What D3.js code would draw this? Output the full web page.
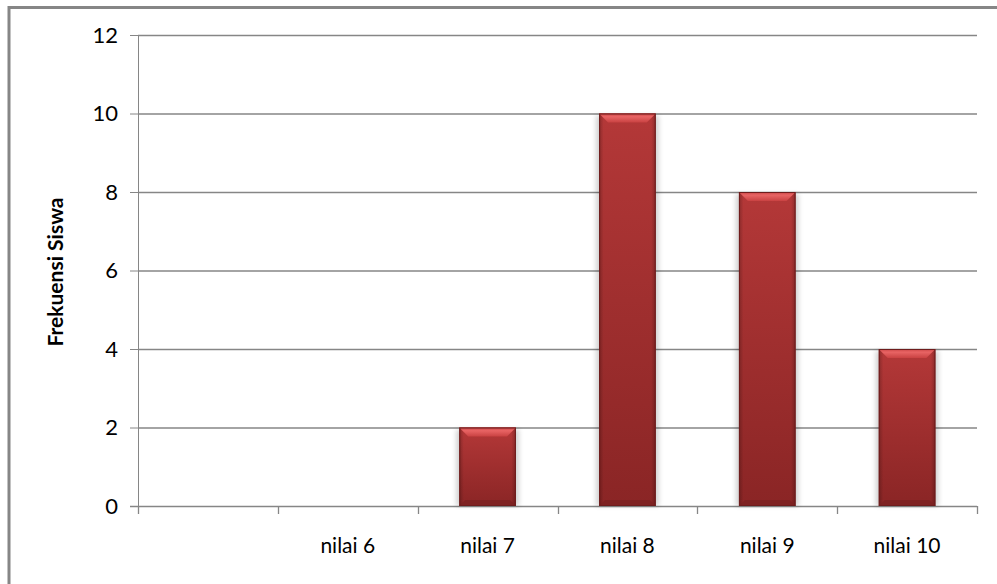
<!DOCTYPE html>
<html>
<head>
<meta charset="utf-8">
<script src="https://cdn.jsdelivr.net/npm/d3@7"></script>
<style>
  body { margin: 0; background: #fff; }
  svg { display: block; }
  text { font-family: Lato, "Open Sans", sans-serif; fill: #000; }
</style>
</head>
<body>
<svg width="997" height="584"></svg>
<script>
// categories (first slot is empty in the original chart)
const categories = ['', 'nilai 6', 'nilai 7', 'nilai 8', 'nilai 9', 'nilai 10']
const values = [null, 0, 2, 10, 8, 4]
const yTicks = [0, 2, 4, 6, 8, 10, 12]
const yTitle = 'Frekuensi Siswa'

const svg = d3.select('svg')
const plot = {left: 138, right: 977, top: 35, bottom: 506}

// outer frame (only top and left edges are visible in the picture)
svg.append('path')
  .attr('d', 'M 9,584 V 7.5 H 997')
  .attr('fill', 'none')
  .attr('stroke', '#868686')
  .attr('stroke-width', 3)

const x = d3.scaleBand()
  .domain(categories.map((d, i) => i))
  .range([plot.left, plot.right])
  .paddingInner(0).paddingOuter(0)

const y = d3.scaleLinear()
  .domain([0, 12])
  .range([plot.bottom, plot.top])

const defs = svg.append('defs')
const body = defs.append('linearGradient').attr('id', 'barBody')
  .attr('x1', 0).attr('y1', 0).attr('x2', 0).attr('y2', 1)
body.append('stop').attr('offset', '0%').attr('stop-color', '#b43838')
body.append('stop').attr('offset', '100%').attr('stop-color', '#8a2525')

const side = defs.append('linearGradient').attr('id', 'barSide')
  .attr('x1', 0).attr('y1', 0).attr('x2', 1).attr('y2', 0)
side.append('stop').attr('offset', '0%').attr('stop-color', '#000').attr('stop-opacity', 0.22)
side.append('stop').attr('offset', '8%').attr('stop-color', '#000').attr('stop-opacity', 0)
side.append('stop').attr('offset', '92%').attr('stop-color', '#000').attr('stop-opacity', 0)
side.append('stop').attr('offset', '100%').attr('stop-color', '#000').attr('stop-opacity', 0.22)

const bevel = defs.append('linearGradient').attr('id', 'bevelTop')
  .attr('x1', 0).attr('y1', 0).attr('x2', 0).attr('y2', 1)
bevel.append('stop').attr('offset', '0%').attr('stop-color', '#c94444')
bevel.append('stop').attr('offset', '35%').attr('stop-color', '#e86464')
bevel.append('stop').attr('offset', '100%').attr('stop-color', '#c94242')

const shadow = defs.append('filter').attr('id', 'shadow')
  .attr('x', '-30%').attr('y', '-5%').attr('width', '160%').attr('height', '110%')
shadow.append('feGaussianBlur').attr('stdDeviation', 2.5)

// gridlines + y axis
const yAxis = d3.axisLeft(y).tickValues(yTicks).tickSize(8).tickPadding(12)
const gy = svg.append('g').attr('transform', `translate(${plot.left},0)`).call(yAxis)
gy.select('.domain').attr('stroke', '#868686')
gy.selectAll('.tick line').attr('stroke', '#868686')
gy.selectAll('.tick text').style('font-size', '22px').attr('fill', '#000')

svg.append('g').selectAll('line.grid')
  .data(yTicks.filter(d => d > 0))
  .join('line')
  .attr('x1', plot.left).attr('x2', plot.right)
  .attr('y1', d => y(d) + 0.5).attr('y2', d => y(d) + 0.5)
  .attr('stroke', '#868686').attr('stroke-width', 1.3)

// x axis line with ticks at slot boundaries
const xAxisG = svg.append('g')
xAxisG.append('line')
  .attr('x1', plot.left - 8).attr('x2', plot.right)
  .attr('y1', y(0) + 0.5).attr('y2', y(0) + 0.5)
  .attr('stroke', '#868686').attr('stroke-width', 1.3)
const bounds = categories.map((d, i) => x(i)).concat([plot.right])
xAxisG.selectAll('line.tk').data(bounds).join('line')
  .attr('x1', d => Math.round(d) + 0.5).attr('x2', d => Math.round(d) + 0.5)
  .attr('y1', y(0)).attr('y2', y(0) + 8)
  .attr('stroke', '#868686').attr('stroke-width', 1.3)
xAxisG.selectAll('text').data(categories).join('text')
  .attr('x', (d, i) => x(i) + x.bandwidth() / 2)
  .attr('y', 553)
  .attr('text-anchor', 'middle')
  .style('font-size', '21px')
  .text(d => d)

// bars
const bw = x.bandwidth() * 0.405
const bars = svg.append('g').selectAll('g.bar')
  .data(values.map((v, i) => ({v, i})).filter(d => d.v > 0))
  .join('g')
  .attr('transform', d => `translate(${x(d.i) + x.bandwidth() / 2 - bw / 2},${y(d.v)})`)

bars.append('rect')
  .attr('x', -3).attr('y', 2)
  .attr('width', bw + 6).attr('height', d => y(0) - y(d.v) - 2)
  .attr('fill', '#000').attr('opacity', 0.18)
  .attr('filter', 'url(#shadow)')

bars.append('rect')
  .attr('width', bw).attr('height', d => y(0) - y(d.v))
  .attr('fill', 'url(#barBody)')

bars.append('rect')
  .attr('width', bw).attr('height', d => y(0) - y(d.v))
  .attr('fill', 'url(#barSide)')

// top bevel
bars.append('path')
  .attr('d', `M0,0 H${bw} L${bw - 9},9 H9 Z`)
  .attr('fill', 'url(#bevelTop)')

// bottom bevel
bars.append('path')
  .attr('d', d => {
    const h = y(0) - y(d.v)
    return `M0,${h} H${bw} L${bw - 6},${h - 6} H6 Z`
  })
  .attr('fill', '#7b2121').attr('opacity', 0.8)

bars.append('rect')
  .attr('x', 0.5).attr('y', 0.5)
  .attr('width', bw - 1).attr('height', d => y(0) - y(d.v) - 1)
  .attr('fill', 'none').attr('stroke', '#6e1c1c').attr('stroke-width', 1)

// y title
svg.append('text')
  .attr('transform', `translate(63,272) rotate(-90)`)
  .attr('text-anchor', 'middle')
  .style('font-size', '21px')
  .style('font-weight', 'bold')
  .text(yTitle)
</script>
</body>
</html>
